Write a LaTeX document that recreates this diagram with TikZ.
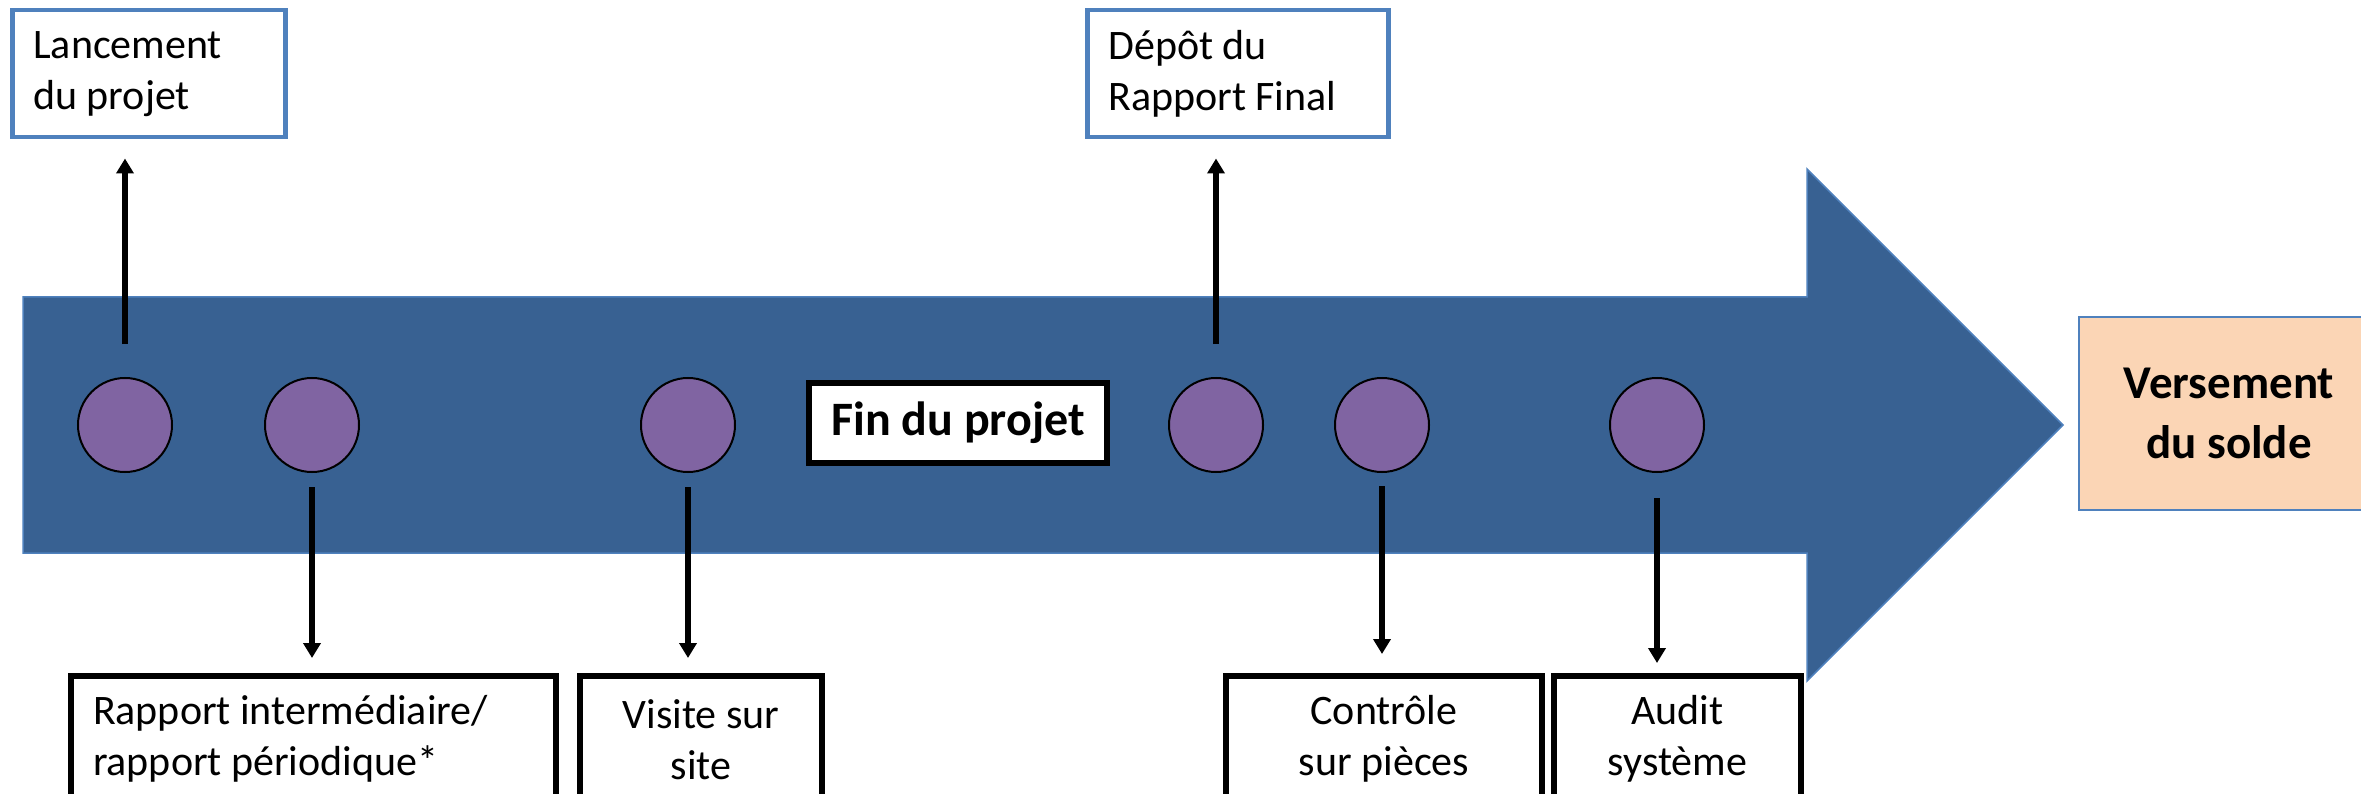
\documentclass[tikz,border=0pt]{standalone}
\usepackage{fontspec}
\setmainfont{Carlito}
\usetikzlibrary{arrows.meta}
\definecolor{shaft}{RGB}{56,97,146}
\definecolor{shaftedge}{RGB}{79,129,189}
\definecolor{dotfill}{RGB}{128,100,162}
\definecolor{peach}{RGB}{251,213,181}
\definecolor{boxblue}{RGB}{79,129,189}
\newcommand{\natsp}{\spaceskip=0.226em\relax\xspaceskip=0.3em\relax}
\begin{document}
\begin{tikzpicture}[x=1pt,y=-1pt,
  txt/.style={font=\fontsize{42}{51}\selectfont},
  dotnode/.style={circle, minimum size=94pt, inner sep=0pt, fill=dotfill, draw=black, line width=2pt},
  topbox/.style={txt, draw=boxblue, line width=4.5pt, fill=white, align=left, inner xsep=21pt, anchor=north west},
  lowbox/.style={txt, draw=black, line width=5.5pt, fill=white, anchor=north, minimum height=127pt},
  arr/.style={line width=5.5pt, -{Triangle[length=15pt,width=17pt]}}
]
\useasboundingbox (0,0) rectangle (2361,794);
\clip (0,0) rectangle (2361,794);
% big arrow
\fill[shaft, draw=shaftedge, line width=1.5pt] (23,297) -- (1807,297) -- (1807,169) -- (2063,425) -- (1807,681) -- (1807,553) -- (23,553) -- cycle;
% dots
\node[dotnode] (c1) at (125,425) {};
\node[dotnode] (c2) at (312,425) {};
\node[dotnode] (c3) at (688,425) {};
\node[dotnode] (c4) at (1216,425) {};
\node[dotnode] (c5) at (1382,425) {};
\node[dotnode] (c6) at (1657,425) {};
% fin du projet
\node[font=\fontsize{48}{58}\selectfont, draw=black, line width=6pt, fill=white, minimum width=298pt, minimum height=80pt] (fin) at (958,423) {\bfseries Fin du projet};
% top boxes
\node[topbox, text width=231pt, minimum height=127pt] (lanc) at (10,8) {\natsp Lancement\\du projet};
\node[topbox, text width=259pt, minimum height=127pt] (depot) at (1085,8) {\natsp Dépôt du\\Rapport Final};
% bottom boxes
\node[lowbox, minimum width=485pt, text width=441pt, align=left] (rapp) at (313.5,673) {\natsp Rapport intermédiaire/\\rapport périodique*};
\node[lowbox, minimum width=242pt, align=center] (visite) at (701,673) {Visite sur\\site};
\node[lowbox, minimum width=316pt, align=center] (ctrl) at (1384,673) {Contrôle\\sur pièces};
\node[lowbox, minimum width=247pt, align=center] (audit) at (1677.5,673) {Audit\\système};
% versement
\node[font=\fontsize{47}{60}\selectfont\bfseries, draw=boxblue, line width=2pt, fill=peach, anchor=north west, minimum width=300pt, minimum height=193pt, align=center, text width=270pt] (vers) at (2078,316) {\natsp Versement\\du solde};
% connectors
\draw[arr, shorten <=33pt, shorten >=19pt] (c1.north) -- (c1.north |- lanc.south);
\draw[arr, shorten <=33pt, shorten >=19pt] (c4.north) -- (c4.north |- depot.south);
\draw[arr, shorten <=14pt, shorten >=15pt] (c2.south) -- (c2.south |- rapp.north);
\draw[arr, shorten <=14pt, shorten >=15pt] (c3.south) -- (c3.south |- visite.north);
\draw[arr, shorten <=13pt, shorten >=19pt] (c5.south) -- (c5.south |- ctrl.north);
\draw[arr, shorten <=25pt, shorten >=10pt] (c6.south) -- (c6.south |- audit.north);
\end{tikzpicture}
\end{document}
